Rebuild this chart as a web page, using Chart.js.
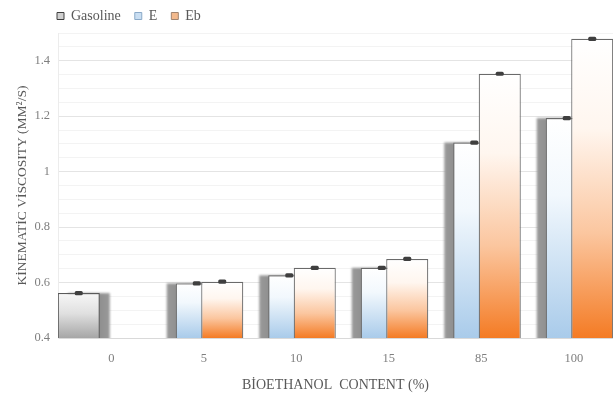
<!DOCTYPE html>
<html>
<head>
<meta charset="utf-8">
<script src="https://cdn.jsdelivr.net/npm/chart.js@4/dist/chart.umd.min.js"></script>
<style>
  html, body { margin: 0; padding: 0; background: #ffffff; }
  #wrap { width: 613px; height: 394px; }
</style>
</head>
<body>
<div id="wrap"><canvas id="c" width="613" height="394"></canvas></div>
<script>
// Bioethanol content of each blend (%)
const categories = ['0', '5', '10', '15', '85', '100'];
// Kinematic viscosity (mm²/s)
const gasoline = [0.562, null, null, null, null, null];
const eSeries  = [null, 0.597, 0.626, 0.653, 1.105, 1.193];
const ebSeries = [null, 0.603, 0.653, 0.685, 1.353, 1.479];
// Small measurement spread shown as caps on top of each bar
const errGasoline = [0.004, null, null, null, null, null];
const errE        = [null, 0.004, 0.004, 0.004, 0.004, 0.004];
const errEb       = [null, 0.004, 0.004, 0.004, 0.004, 0.004];
const yTicks = [0.4, 0.6, 0.8, 1, 1.2, 1.4];

const FONT = '"Liberation Serif", "Times New Roman", serif';
const TEXT = '#595959';

// Vertical gradient from white at the bar top to the series colour at the base
function barGradient(stops, fallback) {
  return function (ctx) {
    const chart = ctx.chart;
    const area = chart.chartArea;
    if (!area || ctx.type !== 'data' || ctx.raw == null) return fallback;
    const top = chart.scales.y.getPixelForValue(ctx.raw);
    const g = chart.ctx.createLinearGradient(0, top, 0, area.bottom);
    stops.forEach(([p, c]) => g.addColorStop(p, c));
    return g;
  };
}

// Draws the series left to right (so each later series overlaps the earlier one),
// each with an offset grey shadow block where the series asks for one,
// then the error caps on top. Everything is clipped to the plot area.
const barLayering = {
  id: 'barLayering',
  beforeDatasetsDraw(chart) {
    const c = chart.ctx;
    const y = chart.scales.y;
    const area = chart.chartArea;
    c.save();
    c.beginPath();
    c.rect(area.left, area.top - 4, area.width + 2, area.height + 4);
    c.clip();
    chart.data.datasets.forEach((ds, i) => {
      const meta = chart.getDatasetMeta(i);
      if (ds.shadowX) {
        meta.data.forEach((bar, j) => {
          if (ds.data[j] == null) return;
          const p = bar.getProps(['x', 'y', 'base', 'width'], true);
          const left = p.x - p.width / 2 + ds.shadowX;
          const g = c.createLinearGradient(left, 0, left + p.width, 0);
          g.addColorStop(0, '#9a9a9a');
          g.addColorStop(0.5, '#858585');
          g.addColorStop(1, '#9a9a9a');
          c.save();
          c.filter = 'blur(0.8px)';
          c.fillStyle = g;
          c.fillRect(left, p.y, p.width, p.base - p.y);
          c.restore();
        });
      }
      meta.controller.draw();
    });
    chart.data.datasets.forEach((ds, i) => {
      const meta = chart.getDatasetMeta(i);
      meta.data.forEach((bar, j) => {
        const v = ds.data[j];
        const e = ds.errors[j];
        if (v == null || e == null) return;
        const y1 = y.getPixelForValue(v + e);
        const y2 = y.getPixelForValue(v - e);
        c.fillStyle = '#3f3f3f';
        c.beginPath();
        c.roundRect(bar.x - 4, y1 - 1, 8, (y2 - y1) + 2, 1.5);
        c.fill();
      });
    });
    c.restore();
    return false;
  }
};

// Pull the legend row in line with the plot's left edge
const legendInset = {
  id: 'legendInset',
  afterLayout(chart) {
    const lg = chart.legend;
    if (lg) lg.left = chart.chartArea.left - lg.options.labels.padding - 1;
  }
};

const legendColors = [
  { fill: '#d0d0d0', stroke: '#404040' },
  { fill: '#c9def2', stroke: '#8aa9c8' },
  { fill: '#f3b98c', stroke: '#a08470' }
];

new Chart(document.getElementById('c'), {
  type: 'bar',
  data: {
    labels: categories,
    datasets: [
      {
        label: 'Gasoline',
        data: gasoline,
        errors: errGasoline,
        shadowX: 10,
        backgroundColor: barGradient([[0, '#f7f7f7'], [0.45, '#e0e0e0'], [1, '#a6a6a6']], '#d0d0d0'),
        borderColor: '#5a5a5a',
        borderWidth: 1.2
      },
      {
        label: 'E',
        data: eSeries,
        errors: errE,
        shadowX: -9,
        backgroundColor: barGradient([[0, '#ffffff'], [0.35, '#f2f8fd'], [1, '#a9cbea']], '#c9def2'),
        borderColor: '#6a6a6a',
        borderWidth: 1.2
      },
      {
        label: 'Eb',
        data: ebSeries,
        errors: errEb,
        shadowX: 0,
        backgroundColor: barGradient([[0, '#ffffff'], [0.3, '#fff6ef'], [0.65, '#fbc69f'], [1, '#f47b24']], '#f3b98c'),
        borderColor: '#6a6a6a',
        borderWidth: 1.2
      }
    ]
  },
  options: {
    responsive: false,
    animation: false,
    devicePixelRatio: 1,
    layout: { padding: { left: 0, right: 0, top: -5, bottom: 0 } },
    datasets: {
      bar: {
        categoryPercentage: 0.827,
        barPercentage: 1.65,
        grouped: true
      }
    },
    plugins: {
      tooltip: { enabled: false },
      legend: {
        position: 'top',
        align: 'start',
        fullSize: false,
        labels: {
          font: { family: FONT, size: 14 },
          color: TEXT,
          boxWidth: 7,
          boxHeight: 7,
          padding: 14,
          generateLabels(chart) {
            return chart.data.datasets.map((ds, i) => ({
              text: ds.label,
              fillStyle: legendColors[i].fill,
              strokeStyle: legendColors[i].stroke,
              lineWidth: 1,
              hidden: false,
              datasetIndex: i,
              fontColor: TEXT
            }));
          }
        }
      }
    },
    scales: {
      x: {
        afterFit(scale) { scale.height = 56; },
        grid: { display: false, drawTicks: false },
        border: { display: true, color: '#d9d9d9' },
        ticks: {
          font: { family: FONT, size: 12.5 },
          color: '#7f7f7f',
          padding: 13,
          labelOffset: 7
        },
        title: {
          display: true,
          text: 'BİOETHANOL  CONTENT (%)',
          font: { family: FONT, size: 14 },
          color: TEXT,
          padding: { top: 1, bottom: 0 }
        }
      },
      y: {
        min: 0.4,
        max: 1.5,
        afterFit(scale) { scale.width = 58; },
        grid: {
          drawTicks: false,
          color(ctx) {
            const v = ctx.tick ? Math.round(ctx.tick.value * 100) : 0;
            return v % 20 === 0 ? '#e4e4e4' : '#f3f3f3';
          }
        },
        border: { display: true, color: '#ececec' },
        ticks: {
          stepSize: 0.05,
          font: { family: FONT, size: 12.5 },
          color: '#7f7f7f',
          padding: 8,
          autoSkip: false,
          callback(value) {
            const hit = yTicks.find(t => Math.abs(t - value) < 1e-6);
            return hit === undefined ? '' : String(hit);
          }
        },
        title: {
          display: true,
          text: 'KİNEMATİC VİSCOSITY (MM²/S)',
          font: { family: FONT, size: 13.5 },
          color: TEXT,
          padding: { top: 14, bottom: 0 }
        }
      }
    }
  },
  plugins: [barLayering, legendInset]
});
</script>
</body>
</html>
